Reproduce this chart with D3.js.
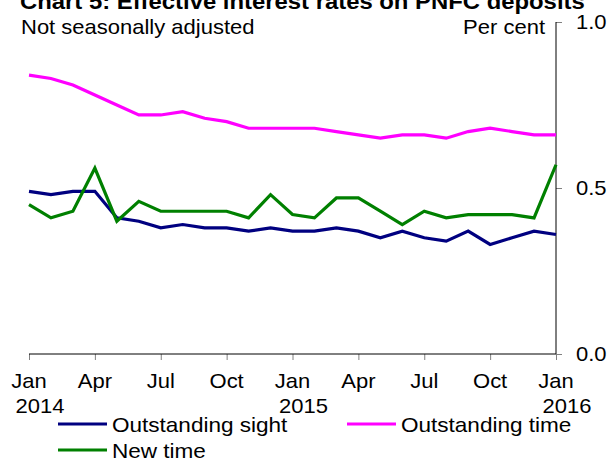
<!DOCTYPE html>
<html>
<head>
<meta charset="utf-8">
<script src="https://cdn.jsdelivr.net/npm/d3@7"></script>
<style>
  body { margin: 0; background: #fff; }
  text { font-family: "Liberation Sans", Arial, sans-serif; fill: #000; }
</style>
</head>
<body>
<script>
var width = 609;
var height = 460;

// monthly, Jan 2014 .. Jan 2016
var outstandingSight = [0.49, 0.48, 0.49, 0.49, 0.41, 0.40, 0.38, 0.39, 0.38, 0.38, 0.37, 0.38, 0.37,
  0.37, 0.38, 0.37, 0.35, 0.37, 0.35, 0.34, 0.37, 0.33, 0.35, 0.37, 0.36];
var outstandingTime = [0.84, 0.83, 0.81, 0.78, 0.75, 0.72, 0.72, 0.73, 0.71, 0.70, 0.68, 0.68, 0.68,
  0.68, 0.67, 0.66, 0.65, 0.66, 0.66, 0.65, 0.67, 0.68, 0.67, 0.66, 0.66];
var newTime = [0.45, 0.41, 0.43, 0.56, 0.40, 0.46, 0.43, 0.43, 0.43, 0.43, 0.41, 0.48, 0.42,
  0.41, 0.47, 0.47, 0.43, 0.39, 0.43, 0.41, 0.42, 0.42, 0.42, 0.41, 0.57];

var quarterTicks = [0, 3, 6, 9, 12, 15, 18, 21, 24];
var quarterLabels = ["Jan", "Apr", "Jul", "Oct", "Jan", "Apr", "Jul", "Oct", "Jan"];
var yearTicks = [0, 12, 24];
var yearLabels = ["2014", "2015", "2016"];
var yTicks = [0, 0.5, 1.0];

var seriesNames = ["Outstanding sight", "Outstanding time", "New time"];
var seriesColors = ["#000080", "#ff00ff", "#008000"];
var seriesData = [outstandingSight, outstandingTime, newTime];

var x = d3.scaleLinear().domain([0, 24]).range([29, 556]);
var y = d3.scaleLinear().domain([0, 1]).range([354, 22]);

var svg = d3.select("body").append("svg")
  .attr("width", width)
  .attr("height", height);

// text slightly stretched horizontally, like the original export
function label(px, py, str, anchor, size, weight) {
  return svg.append("text")
    .attr("transform", "translate(" + px + "," + py + ") scale(1.1,1)")
    .attr("text-anchor", anchor || "start")
    .style("font-size", (size || 20) + "px")
    .style("font-weight", weight || "normal")
    .text(str);
}

label(20, 9, "Chart 5: Effective interest rates on PNFC deposits", "start", 21.7, "bold");
label(21, 34, "Not seasonally adjusted");
label(545, 34, "Per cent", "end");

// right value axis
var yAxis = d3.axisRight(y).tickValues(yTicks).tickSize(6).tickFormat(d3.format(".1f"));
var gy = svg.append("g").attr("transform", "translate(556,0)").call(yAxis);
gy.select(".domain").remove();
gy.selectAll(".tick line").attr("stroke", "#808080");
gy.selectAll(".tick text").remove();
yTicks.forEach(function (v) {
  label(576, y(v) + 7, d3.format(".1f")(v));
});
svg.append("line")
  .attr("x1", 556).attr("x2", 556)
  .attr("y1", y(1)).attr("y2", y(0))
  .attr("stroke", "#000");

// bottom month axis
var xAxis = d3.axisBottom(x).tickValues(quarterTicks).tickSize(6).tickFormat("");
var gx = svg.append("g").attr("transform", "translate(0," + y(0) + ")").call(xAxis);
gx.select(".domain").remove();
gx.selectAll(".tick line").attr("stroke", "#808080");
svg.append("line")
  .attr("x1", x(0)).attr("x2", x(24))
  .attr("y1", y(0)).attr("y2", y(0))
  .attr("stroke", "#000");

quarterTicks.forEach(function (t, i) {
  label(x(t), 388, quarterLabels[i], "middle");
});
yearTicks.forEach(function (t, i) {
  label(x(t) + 11, 413, yearLabels[i], "middle");
});

// lines
var line = d3.line()
  .x(function (d, i) { return x(i); })
  .y(function (d) { return y(d); });

seriesData.forEach(function (s, k) {
  svg.append("path")
    .datum(s)
    .attr("d", line)
    .attr("fill", "none")
    .attr("stroke", seriesColors[k])
    .attr("stroke-width", 3.2)
    .attr("stroke-linejoin", "miter");
});

// legend
var legendPos = [[58, 424], [347, 424], [58, 450]];
seriesNames.forEach(function (name, k) {
  var p = legendPos[k];
  svg.append("line")
    .attr("x1", p[0]).attr("x2", p[0] + 49)
    .attr("y1", p[1]).attr("y2", p[1])
    .attr("stroke", seriesColors[k])
    .attr("stroke-width", 3.2);
  label(p[0] + 54, p[1] + 8, name, "start", 20.5);
});
</script>
</body>
</html>
